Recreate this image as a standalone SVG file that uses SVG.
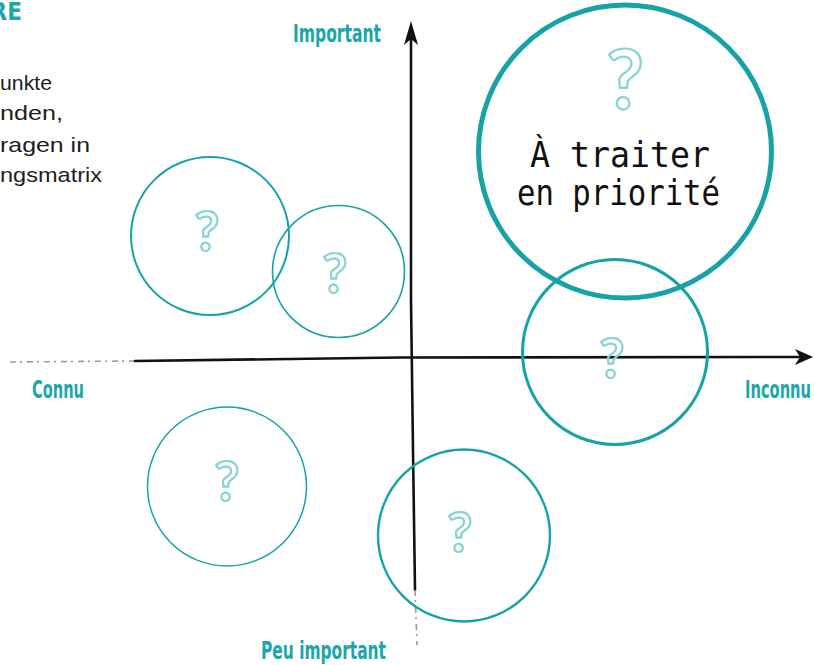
<svg xmlns="http://www.w3.org/2000/svg" width="814" height="665" viewBox="0 0 814 665">
<style>
.lbl{font-family:"Liberation Sans Narrow","DejaVu Sans Condensed","Liberation Sans",sans-serif;font-weight:bold;fill:#1aa6ab;font-size:24px}
.body{font-family:"Liberation Sans","Noto Sans",sans-serif;font-size:21px;fill:#1e1e1e}
.q{font-family:"Lato","Open Sans",sans-serif;font-weight:bold;fill:none;stroke:#86d3d6;stroke-width:2.2;text-anchor:middle}
.c{fill:none;stroke:#16a2a7}
.hand{font-family:"DejaVu Sans Mono","Liberation Mono",monospace;font-size:36px;fill:#111}
.axis{fill:none;stroke:#111;stroke-width:2.6;stroke-linecap:round}
.faint{fill:none;stroke:#9a9a9a;stroke-width:1.6;stroke-dasharray:6 4 2 5}
</style>
<g id="intro">
<text class="lbl" x="22" y="20" text-anchor="end" font-size="25">RE</text>
<text class="body" x="0" y="90" textLength="52" lengthAdjust="spacingAndGlyphs">unkte</text>
<text class="body" x="0" y="120" textLength="63" lengthAdjust="spacingAndGlyphs">nden,</text>
<text class="body" x="0" y="152" textLength="90" lengthAdjust="spacingAndGlyphs">ragen in</text>
<text class="body" x="0" y="182" textLength="102" lengthAdjust="spacingAndGlyphs">ngsmatrix</text>
</g>
<g id="connectors">
<path class="faint" d="M10 362 L135 361"/>
<path class="axis" d="M135 361 L400 357.5 L802 357"/>
<path d="M813 357 L795 349 L800 357 L795 365 Z" fill="#111"/>
<path class="axis" d="M411 36 L411 300 L413 450 L415 590"/>
<path class="faint" d="M415 590 L417 645"/>
<path d="M411 21 L404 45 L411 39 L418 45 Z" fill="#111"/>
</g>
<g id="label-important"><text class="lbl" x="293" y="42" textLength="88" lengthAdjust="spacingAndGlyphs">Important</text></g>
<g id="label-connu"><text class="lbl" x="32" y="398" textLength="52" lengthAdjust="spacingAndGlyphs">Connu</text></g>
<g id="label-inconnu"><text class="lbl" x="745" y="398" textLength="66" lengthAdjust="spacingAndGlyphs">Inconnu</text></g>
<g id="label-peu-important"><text class="lbl" x="261" y="659" textLength="125" lengthAdjust="spacingAndGlyphs">Peu important</text></g>
<g id="circle-a">
<circle class="c" cx="210" cy="236" r="79" stroke-width="2"/>
<text class="q" x="207" y="251" font-size="55">?</text>
</g>
<g id="circle-b">
<circle class="c" cx="338.5" cy="271.5" r="66" stroke-width="1.6"/>
<text class="q" x="335" y="293" font-size="55">?</text>
</g>
<g id="circle-c">
<circle class="c" cx="227" cy="486.5" r="79.5" stroke-width="1.5" stroke="#3cb6bb"/>
<text class="q" x="227" y="501" font-size="55">?</text>
</g>
<g id="circle-d">
<circle class="c" cx="464" cy="535.5" r="86" stroke-width="2.4"/>
<text class="q" x="460" y="552" font-size="55">?</text>
</g>
<g id="circle-e">
<circle class="c" cx="615" cy="352" r="92.5" stroke-width="3"/>
<text class="q" x="612" y="378" font-size="55">?</text>
</g>
<g id="circle-priority">
<circle class="c" cx="625" cy="151.5" r="146.5" stroke-width="5"/>
<text class="q" x="625" y="109" font-size="82" stroke-width="3">?</text>
<text class="hand" x="530" y="167" textLength="180" lengthAdjust="spacingAndGlyphs">À traiter</text>
<text class="hand" x="517" y="205" textLength="203" lengthAdjust="spacingAndGlyphs">en priorité</text>
</g>
</svg>
